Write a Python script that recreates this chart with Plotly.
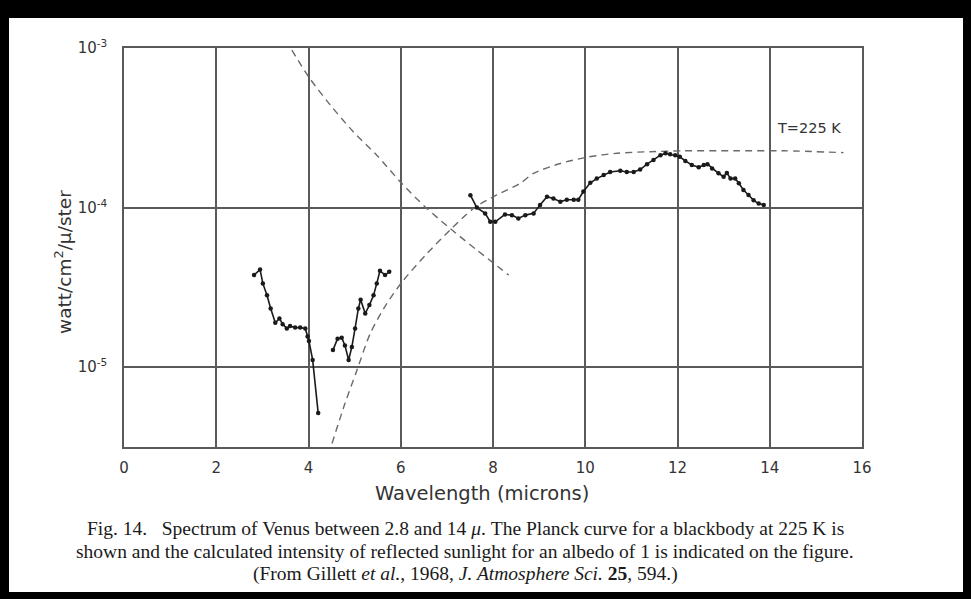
import plotly.graph_objects as go

# ---- data ----
wl_a = [2.82, 2.95, 3.01, 3.10, 3.18, 3.28, 3.37, 3.44, 3.53, 3.60, 3.71, 3.82, 3.93, 3.98, 4.01, 4.09, 4.21]
fx_a = [3.78e-5, 4.09e-5, 3.35e-5, 2.82e-5, 2.33e-5, 1.90e-5, 2.02e-5, 1.86e-5, 1.75e-5, 1.81e-5, 1.77e-5,
        1.77e-5, 1.75e-5, 1.56e-5, 1.46e-5, 1.11e-5, 5.16e-6]

wl_b = [4.53, 4.63, 4.72, 4.79, 4.87, 4.94, 5.01, 5.08, 5.13, 5.23, 5.32, 5.41, 5.48, 5.55, 5.66, 5.75]
fx_b = [1.28e-5, 1.51e-5, 1.53e-5, 1.37e-5, 1.11e-5, 1.34e-5, 1.75e-5, 2.33e-5, 2.65e-5, 2.17e-5, 2.45e-5,
        2.82e-5, 3.35e-5, 4.02e-5, 3.78e-5, 3.96e-5]

wl_c = [7.51, 7.65, 7.83, 7.94, 8.05, 8.26, 8.41, 8.55, 8.70, 8.88, 9.02, 9.17, 9.31, 9.46, 9.60, 9.75, 9.85,
        9.96, 10.11, 10.25, 10.40, 10.54, 10.76, 10.90, 11.05, 11.19, 11.34, 11.48, 11.63, 11.74, 11.84, 11.95,
        12.05, 12.17, 12.31, 12.46, 12.57, 12.65, 12.75, 12.89, 13.00, 13.07, 13.15, 13.25, 13.33, 13.43, 13.54,
        13.65, 13.76, 13.87]
fx_c = [1.197e-4, 1.00e-4, 9.20e-5, 8.15e-5, 8.15e-5, 9.06e-5, 8.97e-5, 8.55e-5, 8.97e-5, 9.20e-5, 1.04e-4,
        1.17e-4, 1.14e-4, 1.09e-4, 1.12e-4, 1.12e-4, 1.12e-4, 1.26e-4, 1.43e-4, 1.52e-4, 1.60e-4, 1.67e-4,
        1.70e-4, 1.67e-4, 1.67e-4, 1.73e-4, 1.87e-4, 1.99e-4, 2.13e-4, 2.19e-4, 2.16e-4, 2.13e-4, 2.08e-4,
        1.96e-4, 1.85e-4, 1.79e-4, 1.85e-4, 1.87e-4, 1.76e-4, 1.64e-4, 1.56e-4, 1.65e-4, 1.52e-4, 1.52e-4,
        1.42e-4, 1.29e-4, 1.20e-4, 1.11e-4, 1.06e-4, 1.04e-4]

# reflected sunlight (albedo 1), dashed
wl_sun = [3.64, 4.00, 4.47, 4.97, 5.48, 6.02, 6.53, 7.07, 7.65, 8.34]
fx_sun = [9.70e-4, 6.61e-4, 4.40e-4, 2.99e-4, 2.13e-4, 1.42e-4, 1.01e-4, 7.40e-5, 5.42e-5, 3.78e-5]

# Planck curve T = 225 K, dashed
wl_bb = [4.51, 4.79, 5.05, 5.34, 5.70, 6.06, 6.57, 7.07, 7.58, 8.08, 8.59, 8.88, 9.46, 10.04, 10.69, 11.41,
         12.13, 13.22, 14.31, 15.60]
fx_bb = [3.33e-6, 5.92e-6, 9.57e-6, 1.63e-5, 2.51e-5, 3.51e-5, 5.16e-5, 7.23e-5, 9.89e-5, 1.20e-4, 1.42e-4,
         1.64e-4, 1.89e-4, 2.07e-4, 2.19e-4, 2.24e-4, 2.27e-4, 2.27e-4, 2.27e-4, 2.21e-4]

x_ticks = [0, 2, 4, 6, 8, 10, 12, 14, 16]
y_ticks = [1e-5, 1e-4, 1e-3]
y_ticktext = ["10<sup>-5</sup>", "10<sup>-4</sup>", "10<sup>-3</sup>"]

# ---- figure ----
W, H = 971, 599
L, R, T, B = 124, 109, 48, 152
pw, ph = W - L - R, H - T - B


def px(x):
    return (x - L) / pw


def py(y):
    return (H - B - y) / ph


fig = go.Figure()

dash_style = dict(color="#6a6a6a", width=1.4, dash="7px,5px")
fig.add_trace(go.Scatter(x=wl_sun, y=fx_sun, mode="lines", line=dict(shape="spline", smoothing=0.8, **dash_style),
                         showlegend=False, hoverinfo="skip"))
fig.add_trace(go.Scatter(x=wl_bb, y=fx_bb, mode="lines", line=dict(shape="spline", smoothing=0.8, **dash_style),
                         showlegend=False, hoverinfo="skip"))

for xs, ys in [(wl_a, fx_a), (wl_b, fx_b), (wl_c, fx_c)]:
    fig.add_trace(go.Scatter(x=xs, y=ys, mode="lines+markers",
                             line=dict(color="#1a1a1a", width=1.6),
                             marker=dict(color="#1a1a1a", size=4.5),
                             showlegend=False))

grid_col = "#5a5a5a"
font_sans = "DejaVu Sans"
fig.update_xaxes(range=[0, 16], tickvals=x_ticks, ticktext=[str(v) for v in x_ticks],
                 showgrid=True, gridcolor=grid_col, gridwidth=1.5,
                 showline=True, linecolor=grid_col, linewidth=1.5, mirror=True,
                 zeroline=False, ticks="", ticklabelstandoff=6,
                 tickfont=dict(family=font_sans, size=15, color="#333"))
fig.update_yaxes(type="log", range=[-5.5, -3], tickvals=y_ticks, ticktext=y_ticktext,
                 showgrid=True, gridcolor=grid_col, gridwidth=1.5,
                 showline=True, linecolor=grid_col, linewidth=1.5, mirror=True,
                 zeroline=False, ticks="", ticklabelstandoff=12,
                 tickfont=dict(family=font_sans, size=15, color="#333"))

cap_font = dict(family="Liberation Serif", size=19.5, color="#1a1a1a")
annotations = [
    dict(x=14.85, y=-3.50, xref="x", yref="y", text="T=225 K", showarrow=False,
         font=dict(family=font_sans, size=14.5, color="#333")),
    dict(x=px(482), y=py(493), xref="paper", yref="paper", text="Wavelength (microns)", showarrow=False,
         font=dict(family=font_sans, size=19.5, color="#333"), xanchor="center", yanchor="middle"),
    dict(x=px(63), y=py(262), xref="paper", yref="paper", text="watt/cm<sup>2</sup>/μ/ster", showarrow=False,
         textangle=-90, font=dict(family=font_sans, size=18.5, color="#333"), xanchor="center", yanchor="middle"),
    dict(x=px(465), y=py(528), xref="paper", yref="paper",
         text="Fig. 14.   Spectrum of Venus between 2.8 and 14 <i>μ</i>. The Planck curve for a blackbody at 225 K is",
         showarrow=False, font=cap_font, xanchor="center", yanchor="middle"),
    dict(x=px(465), y=py(551), xref="paper", yref="paper",
         text="shown and the calculated intensity of reflected sunlight for an albedo of 1 is indicated on the figure.",
         showarrow=False, font=cap_font, xanchor="center", yanchor="middle"),
    dict(x=px(465), y=py(574), xref="paper", yref="paper",
         text="(From Gillett <i>et al.</i>, 1968, <i>J. Atmosphere Sci.</i> <b>25</b>, 594.)",
         showarrow=False, font=cap_font, xanchor="center", yanchor="middle"),
]

shapes = [
    dict(type="rect", xref="paper", yref="paper", x0=px(9), x1=px(963), y0=py(592), y1=py(18),
         fillcolor="white", line=dict(width=0), layer="below"),
]

fig.update_layout(width=W, height=H, autosize=False,
                  margin=dict(l=L, r=R, t=T, b=B, pad=0),
                  paper_bgcolor="black", plot_bgcolor="rgba(0,0,0,0)",
                  annotations=annotations, shapes=shapes, showlegend=False)

fig.write_html("out.html")
